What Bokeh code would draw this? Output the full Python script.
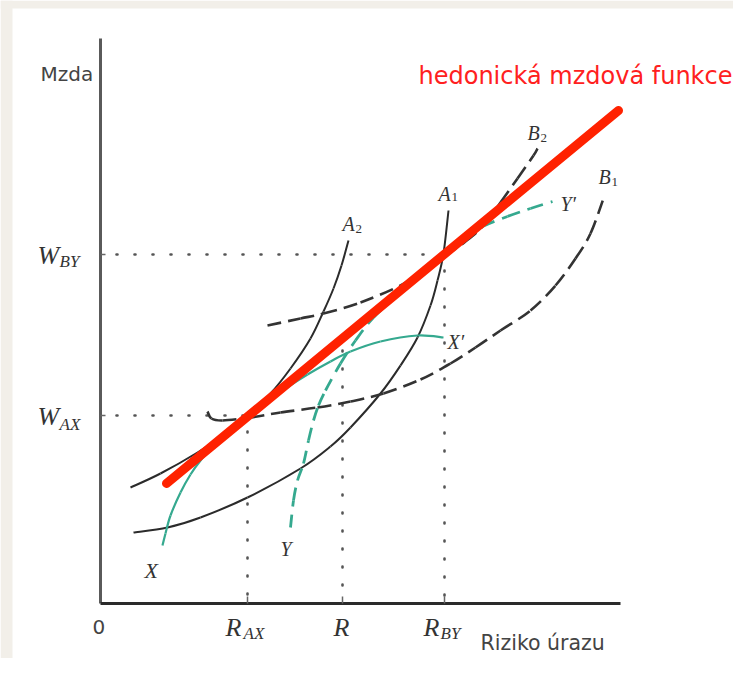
from bokeh.plotting import figure
from bokeh.models import Range1d
from bokeh.embed import file_html
from bokeh.resources import INLINE
from bokeh.core.properties import value

# ---------------- data (risk on x, wage on y; origin at the axes' corner) -------------
hedonic_risk = [66, 518]
hedonic_wage = [120, 493]

a2_risk = [30, 60, 97, 125, 147, 170, 190, 210, 223, 233, 241, 248]
a2_wage = [116, 130, 151, 170, 188, 210, 235, 265, 292, 315, 338, 363]

a1_risk = [33, 67, 100, 147, 200, 230, 250, 280, 300, 317, 330, 337, 343, 348]
a1_wage = [71, 76, 86, 106, 135, 157, 176, 210, 238, 266, 298, 323, 350, 393]

b1_risk = [107, 111, 122, 150, 180, 217, 250, 283, 320, 350, 375, 400, 430, 455, 475, 490, 503]
b1_wage = [192, 185, 183, 186, 191, 196, 202, 210, 224, 240, 256, 273, 293, 318, 345, 370, 405]

b2_risk = [167, 200, 223, 260, 300, 325, 344, 365, 383, 400, 417, 433, 437]
b2_wage = [278, 285, 290, 301, 318, 333, 347, 362, 378, 401, 425, 448, 455]

x_risk = [62, 65, 70, 80, 90, 100, 115, 130, 147, 165, 185, 207, 230, 250, 280, 317, 343]
x_wage = [58, 70, 88, 111, 129, 143, 160, 173, 187, 201, 215, 229, 242, 252, 262, 268, 266]

y_risk = [190, 193, 197, 203, 208, 213, 218, 225, 240, 255, 273, 300, 325, 344, 365, 382, 407, 430, 452]
y_wage = [76, 103, 123, 140, 163, 183, 198, 213, 240, 263, 286, 311, 333, 348, 365, 377, 387, 395, 402]

R_AX, R_MID, R_BY = 147, 242, 344
W_AX, W_BY = 188, 349
R_MID_TOP = 253
AXIS_X_END, AXIS_Y_END = 520, 565

# ---------------- figure: 1 data unit = 1 pixel ----------------
W, H = 733, 658
X0, Y0 = -100, 603          # data value at the figure's left / top edge
p = figure(width=W, height=H, output_backend="svg", toolbar_location=None,
           x_range=Range1d(X0, X0 + W), y_range=Range1d(Y0 - H, Y0),
           x_axis_type=None, y_axis_type=None, min_border=0,
           outline_line_color=None, background_fill_color="white",
           border_fill_color="white")
p.grid.visible = False

# beige page edge
beige = "#f2efe9"
p.quad(left=[X0, X0], right=[X0 + 12, X0 + W], bottom=[Y0 - H, Y0 - 8], top=[Y0, Y0],
       fill_color=beige, line_color=None)


def smooth(xs, ys, **kw):
    """Draw a smooth curve through the read points (Catmull-Rom as cubic Beziers)."""
    n = len(xs)
    d = dict(x0=[], y0=[], x1=[], y1=[], cx0=[], cy0=[], cx1=[], cy1=[])
    for i in range(n - 1):
        a = max(i - 1, 0)
        b = min(i + 2, n - 1)
        d["x0"].append(xs[i]); d["y0"].append(ys[i])
        d["x1"].append(xs[i + 1]); d["y1"].append(ys[i + 1])
        d["cx0"].append(xs[i] + (xs[i + 1] - xs[a]) / 6.0)
        d["cy0"].append(ys[i] + (ys[i + 1] - ys[a]) / 6.0)
        d["cx1"].append(xs[i + 1] - (xs[b] - xs[i]) / 6.0)
        d["cy1"].append(ys[i + 1] - (ys[b] - ys[i]) / 6.0)
    p.bezier(**d, **kw)


# axes
p.line([0, 0], [0, AXIS_Y_END], line_color="#5a5a5a", line_width=3)
p.line([0, AXIS_X_END], [0, 0], line_color="#2a2a2a", line_width=3)
# ticks
p.segment(x0=[R_AX, R_MID, R_BY], y0=[0, 0, 0], x1=[R_AX, R_MID, R_BY], y1=[7, 7, 7],
          line_color="#666", line_width=1.5)
p.segment(x0=[0, 0], y0=[W_AX, W_BY], x1=[5, 5], y1=[W_AX, W_BY], line_color="#666", line_width=1.5)

# dotted guides
dot = dict(line_color="#555", line_width=2.6, line_dash="1 17", line_cap="round")
p.line([16, R_BY], [W_BY, W_BY], **dot)
p.line([16, R_AX], [W_AX, W_AX], **dot)
p.line([R_AX, R_AX], [W_AX - 16, 8], **dot)
p.line([R_MID, R_MID], [R_MID_TOP, 8], **dot)
p.line([R_BY, R_BY], [W_BY - 16, 8], **dot)

# curves
teal = "#35a98f"
smooth(a2_risk, a2_wage, line_color="#2b2b2b", line_width=2)
smooth(a1_risk, a1_wage, line_color="#2b2b2b", line_width=2)
smooth(b1_risk, b1_wage, line_color="#333", line_width=2.6, line_dash="14 7")
smooth(b2_risk, b2_wage, line_color="#333", line_width=2.6, line_dash="14 7")
smooth(x_risk, x_wage, line_color=teal, line_width=2.2)
smooth(y_risk, y_wage, line_color=teal, line_width=2.8, line_dash="13 8")

# hedonic wage function
p.line(hedonic_risk, hedonic_wage, line_color="#ff2200", line_width=9, line_cap="round")

# ---------------- texts ----------------
DY = 7  # baseline correction


def sans(x, y, t, size, color="#444", align="left"):
    p.text(x=[x], y=[y + DY], text=[t], text_font=value("DejaVu Sans"),
           text_font_size=f"{size}px", text_color=color, text_align=align,
           text_baseline="alphabetic")


def serif(x, y, t, size, style="italic", color="#333"):
    p.text(x=[x], y=[y + DY], text=[t], text_font=value("Liberation Serif"),
           text_font_style=style, text_font_size=f"{size}px", text_color=color,
           text_align="left", text_baseline="alphabetic")


sans(-60, 523, "Mzda", 20)
sans(-8, -30, "0", 20)
sans(380, -46, "Riziko úrazu", 20.5)
sans(318, 521, "hedonická mzdová funkce", 24, color="#ff2020")

serif(125, -31, "R", 26); serif(143, -37, "AX", 17)
serif(233, -31, "R", 26)
serif(323, -31, "R", 26); serif(340, -37, "BY", 17)
serif(-63, 341, "W", 26); serif(-41, 335, "BY", 17)
serif(-63, 180, "W", 26); serif(-41, 172, "AX", 17)

serif(242, 373, "A", 20); serif(255, 368, "2", 13, style="normal")
serif(338, 403, "A", 20); serif(351, 400, "1", 13, style="normal")
serif(427, 464, "B", 20); serif(440, 459, "2", 13, style="normal")
serif(498, 420, "B", 20); serif(511, 415, "1", 13, style="normal")
serif(460, 393, "Y′", 20)
serif(347, 255, "X′", 20)
serif(44, 26, "X", 22)
serif(180, 48, "Y", 20)

open("out.html", "w").write(file_html(p, INLINE))
